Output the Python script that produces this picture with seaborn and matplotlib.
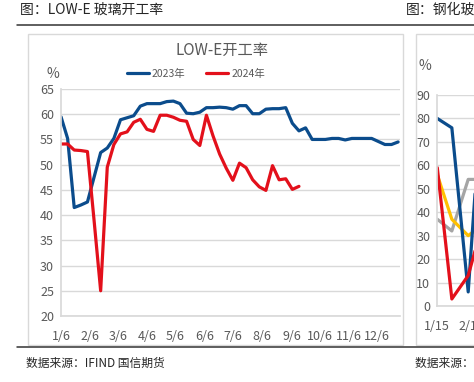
import pandas as pd
import matplotlib.pyplot as plt
import seaborn as sns
from matplotlib.patches import Rectangle
from matplotlib.lines import Line2D

# LOW-E glass utilisation rate (%), weekly from 1/6
rate_2023 = [59.5, 55.2, 41.5, 42.0, 42.6, 47.5, 52.4, 53.3, 55.2, 58.9,
             59.3, 59.7, 61.6, 62.1, 62.1, 62.1, 62.5, 62.6, 62.1, 60.2,
             60.1, 60.4, 61.3, 61.3, 61.4, 61.3, 61.0, 61.7, 61.7, 60.1,
             60.1, 61.0, 61.1, 61.1, 61.3, 58.2, 56.7, 57.3, 55.0, 55.0,
             55.0, 55.2, 55.2, 54.9, 55.2, 55.2, 55.2, 55.2, 54.6, 54.0,
             54.0, 54.5]
rate_2024 = [54.1, 54.1, 52.9, 52.8, 52.6, 39.0, 25.0, 49.5, 54.0, 56.1,
             56.5, 58.4, 59.0, 57.0, 56.6, 59.8, 59.8, 59.4, 58.8, 58.6,
             55.0, 53.8, 59.8, 55.7, 52.1, 49.3, 46.9, 50.3, 49.4, 47.0,
             45.6, 44.9, 49.8, 47.0, 47.2, 45.1, 45.7]
month_labels = ['1/6', '2/6', '3/6', '4/6', '5/6', '6/6',
                '7/6', '8/6', '9/6', '10/6', '11/6', '12/6']
year_names = ['2023年', '2024年']

# neighbouring (cropped) chart: tempered glass utilisation
tempered_days = [0, 8, 17, 22]
tempered_blue = [80, 76, 6, 62]
tempered_red = [59, 3, 13, 27]
tempered_gray = [37, 32, 54, 54]
tempered_yellow = [56, 37, 30, 33]
tempered_ticks = [0, 17]
tempered_labels = ['1/15', '2/1']

weeks = pd.date_range('2024-01-06', periods=52, freq='7D')
df = pd.concat([
    pd.DataFrame({'date': weeks[:len(rate_2023)], 'rate': rate_2023, 'year': year_names[0]}),
    pd.DataFrame({'date': weeks[:len(rate_2024)], 'rate': rate_2024, 'year': year_names[1]}),
])

sns.set_theme(style='white')
cjk = ['Noto Sans CJK SC', 'DejaVu Sans']
narrow = ['Liberation Sans Narrow', 'Noto Sans CJK SC', 'DejaVu Sans']
plt.rcParams['font.family'] = narrow

W, H = 474, 382
fig = plt.figure(figsize=(W / 100, H / 100), dpi=100)
grey_txt = '#595959'
grid_c = '#D9D9D9'

# page decoration
fig.text(20 / W, 1 - 10 / H, '图：LOW-E 玻璃开工率', fontsize=10, va='center', family=cjk)
fig.text(406 / W, 1 - 10 / H, '图：钢化玻璃开工率', fontsize=10, va='center', family=cjk)
fig.add_artist(Line2D([17 / W, 1], [1 - 25 / H] * 2, color='#333333', lw=1.1))
fig.add_artist(Line2D([17 / W, 1], [1 - 347 / H] * 2, color='#333333', lw=1.1))
fig.text(26 / W, 1 - 363 / H, '数据来源：IFIND 国信期货', fontsize=8.5, va='center', family=cjk)
fig.text(415 / W, 1 - 363 / H, '数据来源：IFIND 国信期货', fontsize=8.5, va='center', family=cjk)
fig.patches.append(Rectangle((28 / W, 1 - 345 / H), 375 / W, 311 / H, transform=fig.transFigure,
                             fill=False, ec=grid_c, lw=1))
fig.patches.append(Rectangle((416 / W, 1 - 345 / H), 200 / W, 311 / H, transform=fig.transFigure,
                             fill=False, ec=grid_c, lw=1))

# main chart
ax = fig.add_axes([61 / W, 1 - 316 / H, 339 / W, 227 / H])
sns.lineplot(data=df, x='date', y='rate', hue='year', hue_order=year_names,
             palette=['#0B4C8C', '#E3101B'], linewidth=2.3, ax=ax)
ax.set_ylim(20, 65)
ax.set_yticks(range(20, 70, 5))
ax.set_xlim(pd.Timestamp('2024-01-06'), pd.Timestamp('2024-12-30'))
ax.set_xticks(pd.to_datetime(['2024/' + m for m in month_labels]))
ax.set_xticklabels(month_labels)
ax.set_xlabel('')
ax.set_ylabel('')
ax.grid(axis='y', color=grid_c, lw=1)
for s in ['top', 'right']:
    ax.spines[s].set_visible(False)
for s in ['left', 'bottom']:
    ax.spines[s].set_color(grid_c)
ax.tick_params(axis='x', length=4, color=grid_c, pad=6, labelsize=9, labelcolor=grey_txt)
ax.tick_params(axis='y', length=0, pad=5, labelsize=9, labelcolor=grey_txt)
fig.text(53 / W, 1 - 74 / H, '%', fontsize=10, color=grey_txt, ha='center', va='center')
fig.text(222 / W, 1 - 50 / H, 'LOW-E开工率', fontsize=11, color=grey_txt, ha='center', va='center')
sns.move_legend(ax, 'center', bbox_to_anchor=(196 / W, 1 - 74 / H), bbox_transform=fig.transFigure,
                ncol=2, frameon=False, title=None, fontsize=7.5, handlelength=2.1,
                columnspacing=2.0, handletextpad=0.3)
for t in ax.get_legend().get_texts():
    t.set_color(grey_txt)

# cropped neighbour chart
ax2 = fig.add_axes([437.3 / W, 1 - 306 / H, 300 / W, 211 / H])
for vals, col in [(tempered_gray, '#A5A5A5'), (tempered_yellow, '#FFC000'),
                  (tempered_blue, '#0B4C8C'), (tempered_red, '#E3101B')]:
    sns.lineplot(x=tempered_days, y=vals, color=col, linewidth=2.3, ax=ax2)
ax2.set_ylim(0, 90)
ax2.set_yticks(range(0, 100, 10))
ax2.set_xlim(0, 165)
ax2.set_xticks(tempered_ticks)
ax2.set_xticklabels(tempered_labels)
ax2.grid(axis='y', color=grid_c, lw=1)
for s in ['top', 'right']:
    ax2.spines[s].set_visible(False)
for s in ['left', 'bottom']:
    ax2.spines[s].set_color(grid_c)
ax2.tick_params(axis='x', length=4, color=grid_c, pad=6, labelsize=9, labelcolor=grey_txt)
ax2.tick_params(axis='y', length=0, pad=5, labelsize=9, labelcolor=grey_txt)
fig.text(425 / W, 1 - 66 / H, '%', fontsize=10, color=grey_txt, ha='center', va='center')

fig.savefig('out.png', dpi=100)
